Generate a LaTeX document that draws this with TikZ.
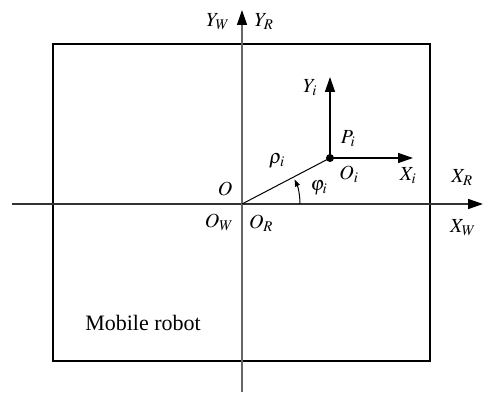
\documentclass[tikz,border=0pt]{standalone}
\usepackage{mathptmx}
\usepackage[no-math]{fontspec}
\setmainfont{Liberation Serif}
\usetikzlibrary{arrows.meta}

\begin{document}
\begin{tikzpicture}[
    x=1pt, y=1pt,
    lbl/.style={font=\fontsize{20}{24}\selectfont, inner sep=0pt},
    axis/.style={line width=1.5pt, -{Triangle[length=15pt,width=10pt,color=black]}},
    frame/.style={line width=2pt, draw=black},
    arrow/.style={line width=1.4pt, -{Triangle[length=15pt,width=10pt]}},
    angarrow/.style={line width=1pt, -{Triangle[length=7pt,width=5pt]}}
]
\useasboundingbox (0,0) rectangle (484,393);

% robot body
\draw[frame] (53,32) rectangle (430,349);
\node[lbl, font=\fontsize{22}{26}\selectfont] (robot) at (143,70) {Mobile robot};

% world / robot frames
\coordinate (o) at (242,189);
\coordinate (xl) at (12,189);
\coordinate (xr) at (483,189);
\coordinate (yb) at (242,1);
\coordinate (yt) at (242,383);
\draw[axis, draw=black!80] (xl) -- (xr);
\draw[axis, draw=black!60] (yb) -- (yt);

% local frame at point i
\node[circle, fill=black, inner sep=0pt, minimum size=8pt] (oi) at (330,235) {};
\coordinate (xi) at (413,235);
\coordinate (yi) at (330,316);
\draw[arrow] (oi.center) -- (xi);
\draw[arrow] (oi.center) -- (yi);
\draw[line width=1pt] (o) -- (oi.center);
\draw[angarrow] (300,189) arc[start angle=0, end angle=25, radius=58];

% labels
\node[lbl] (yw) at (218,371) {$Y_W$};
\node[lbl] (yr) at (264,371) {$Y_R$};
\node[lbl] (ol) at (225,204) {$O$};
\node[lbl] (ow) at (219,171) {$O_W$};
\node[lbl] (or) at (261,170) {$O_R$};
\node[lbl] (rho) at (277,232) {$\rho_i$};
\node[lbl] (phi) at (319,205) {$\varphi_i$};
\node[lbl] (pi) at (348,254) {$P_i$};
\node[lbl] (oil) at (349,219) {$O_i$};
\node[lbl] (xil) at (408,217) {$X_i$};
\node[lbl] (yil) at (310,305) {$Y_i$};
\node[lbl] (xrl) at (462,215) {$X_R$};
\node[lbl] (xwl) at (463,165) {$X_W$};
\end{tikzpicture}
\end{document}
